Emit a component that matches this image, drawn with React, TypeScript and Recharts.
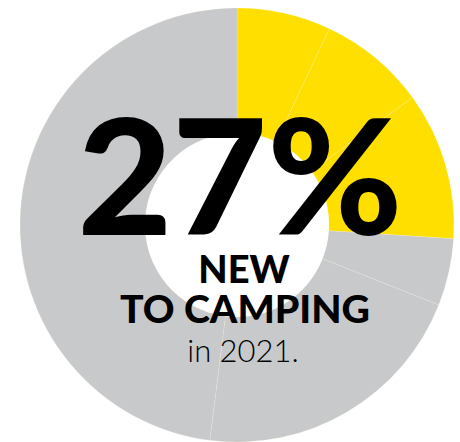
import { PieChart, Pie, Cell } from "recharts";

// share of campers, in percent, walked clockwise from 12 o'clock
const SLICE_NAMES = ["new-a", "new-b", "new-c", "rest-a", "rest-b", "rest-c"];
const SLICE_VALUES = [7, 8, 11, 5, 21, 48];
const SLICE_KIND = ["new", "new", "new", "rest", "rest", "rest"];

const HEADLINE = "27%";
const LINE_ONE = "NEW";
const LINE_TWO = "TO CAMPING";
const LINE_THREE = "in 2021.";

const COLORS: Record<string, string> = {
  new: "#FEDF00",
  rest: "#C8C9CB",
};

const pieData = SLICE_NAMES.map((name, i) => ({
  name,
  value: SLICE_VALUES[i],
  kind: SLICE_KIND[i],
}));

export default function App() {
  return (
    <div
      style={{
        position: "absolute",
        left: 0,
        top: 0,
        width: 460,
        height: 442,
        background: "#ffffff",
        overflow: "hidden",
      }}
    >
      <PieChart width={460} height={442} margin={{ top: 0, right: 0, bottom: 0, left: 0 }}>
        <Pie
          data={pieData}
          dataKey="value"
          cx={237}
          cy={225}
          innerRadius={92}
          outerRadius={217}
          startAngle={90}
          endAngle={-270}
          stroke="#fffbe0"
          strokeWidth={0.5}
          strokeOpacity={0.35}
          isAnimationActive={false}
        >
          {pieData.map((entry, index) => (
            <Cell key={`cell-${index}`} fill={COLORS[entry.kind]} />
          ))}
        </Pie>
      </PieChart>
      {/* big number + caption, drawn over the donut */}
      <svg
        width={460}
        height={442}
        style={{ position: "absolute", left: 0, top: 0, pointerEvents: "none" }}
      >
        <text
          x={240}
          y={235}
          textAnchor="middle"
          fontFamily="Lato, sans-serif"
          fontWeight={900}
          fontSize={160}
          fill="#000000"
          textLength={325}
          lengthAdjust="spacingAndGlyphs"
        >
          {HEADLINE}
        </text>
        <text
          x={244}
          y={283}
          textAnchor="middle"
          fontFamily="Lato, sans-serif"
          fontWeight={900}
          fontSize={38}
          fill="#000000"
        >
          {LINE_ONE}
        </text>
        <text
          x={245}
          y={323}
          textAnchor="middle"
          fontFamily="Lato, sans-serif"
          fontWeight={900}
          fontSize={37}
          fill="#000000"
          textLength={250}
          lengthAdjust="spacingAndGlyphs"
        >
          {LINE_TWO}
        </text>
        <text
          x={243}
          y={362}
          textAnchor="middle"
          fontFamily="Lato, sans-serif"
          fontWeight={300}
          fontSize={31}
          fill="#000000"
        >
          {LINE_THREE}
        </text>
      </svg>
    </div>
  );
}
